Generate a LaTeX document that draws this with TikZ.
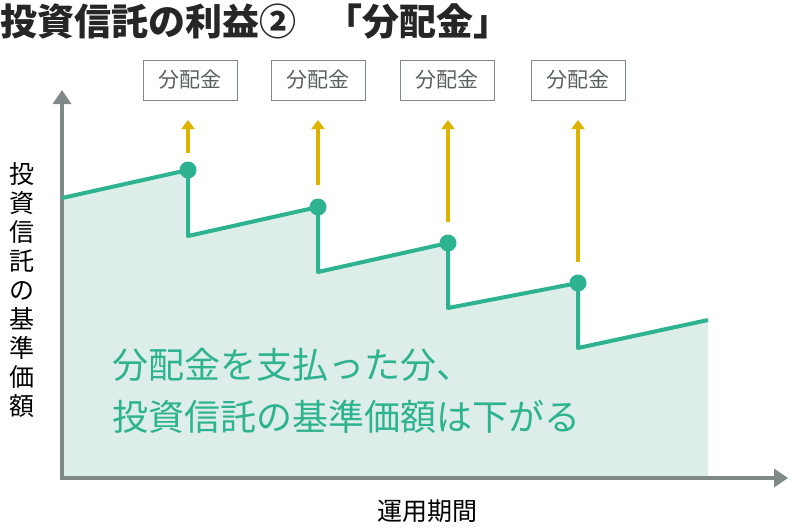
\documentclass[tikz,border=0pt]{standalone}
\usepackage{fontspec}
\setmainfont{Noto Sans CJK JP}
\usetikzlibrary{arrows.meta}
\definecolor{gline}{HTML}{2DB38F}
\definecolor{garea}{HTML}{DDEDEA}
\definecolor{yarr}{HTML}{DDB300}
\definecolor{axisg}{HTML}{7F8A88}
\begin{document}
\begin{tikzpicture}[x=1pt,y=-1pt,
  divbox/.style={draw=axisg,line width=1pt,minimum width=94pt,minimum height=40pt,font=\fontsize{21}{22}\selectfont,text=axisg!70!black,inner sep=0pt},
  yarrow/.style={draw=yarr,line width=4pt,-{Triangle[length=9pt,width=13pt]}},
  dot/.style={circle,fill=gline,minimum size=17pt,inner sep=0pt}]
\useasboundingbox (0,0) rectangle (800,528);
\node[anchor=west,font=\fontsize{37}{38}\selectfont\bfseries,inner sep=0pt,text=black!85] (title) at (0,22) {投資信託の利益②\hspace{0.8em}「分配金」};
\fill[garea] (62,198)--(188,170)--(188,236)--(318,207)--(318,272)--(448,243)--(448,308)--(578,283)--(578,348)--(708,320)--(708,478)--(62,478)--cycle;
\coordinate (ytop) at (62,90);
\coordinate (xend) at (788,478);
\draw[axisg,line width=4pt,-{Triangle[length=14pt,width=18pt]}] (62,480)--(ytop);
\draw[axisg,line width=4pt,-{Triangle[length=14pt,width=18pt]}] (60,478)--(xend);
\draw[gline,line width=4pt,line join=round] (62,198)--(188,170)--(188,236)--(318,207)--(318,272)--(448,243)--(448,308)--(578,283)--(578,348)--(708,320);
\foreach \x/\y/\n in {188/170/1,318/207/2,448/243/3,578/283/4}{
  \node[dot] (d\n) at (\x,\y) {};
}
\foreach \x/\n in {190/1,318/2,447/3,578/4}{
  \node[divbox] (b\n) at (\x,80) {分配金};
}
\draw[yarrow] (188,153)--(188,120);
\draw[yarrow] (318,185)--(318,120);
\draw[yarrow] (448,222)--(448,120);
\draw[yarrow] (578,262)--(578,120);
\node[align=center,font=\fontsize{25}{29}\selectfont] (ylab) at (22,290) {投\\資\\信\\託\\の\\基\\準\\価\\額};
\node[font=\fontsize{25}{26}\selectfont] (xlab) at (427,511) {運用期間};
\node[anchor=north west,align=left,text=gline,font=\fontsize{36}{52}\selectfont,inner sep=0pt] (msg) at (112,348) {分配金を支払った分、\\投資信託の基準価額は下がる};
\end{tikzpicture}
\end{document}
